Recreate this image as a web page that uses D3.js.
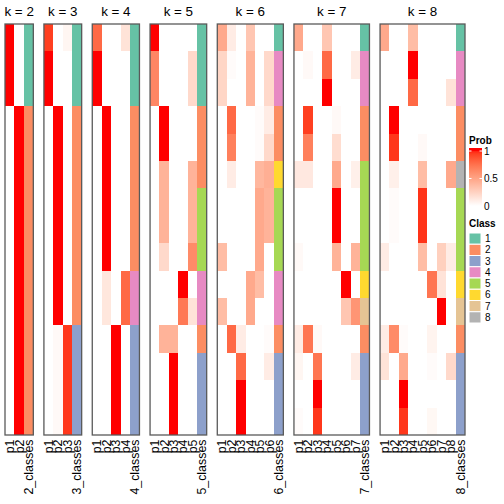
<!DOCTYPE html>
<html>
<head>
<meta charset="utf-8">
<script src="https://cdn.jsdelivr.net/npm/d3@7"></script>
<style>
  html, body { margin: 0; padding: 0; background: #fff; }
  svg { display: block; font-family: "Liberation Sans", Arial, Helvetica, sans-serif; }
</style>
</head>
<body>
<svg id="chart" width="504" height="504"></svg>
<script>
// ---- data: membership probabilities per sample (rows) for each k ----
const kValues = [2, 3, 4, 5, 6, 7, 8];
const nSamples = 15;

const probK2 = [
  [1,0],[1,0],[1,0],
  [0,1],[0,1],[0,1],[0,1],[0,1],[0,1],[0,1],[0,1],[0,1],[0,1],[0,1],[0,1]
];
const classK2 = [1,1,1,2,2,2,2,2,2,2,2,2,2,2,2];

const probK3 = [
  [0.9,0,0.05],[1,0,0],[1,0,0],
  [0,1,0],[0,1,0],[0,1,0],[0,1,0],[0,1,0],[0,1,0],[0,1,0],[0,1,0],
  [0,0.03,0.92],[0,0.03,0.92],[0,0.03,0.92],[0,0.03,0.92]
];
const classK3 = [1,1,1,2,2,2,2,2,2,2,2,3,3,3,3];

const probK4 = [
  [0.75,0,0,0.15],[1,0,0,0],[1,0,0,0],
  [0,1,0,0],[0,1,0,0],[0,1,0,0],[0,1,0,0],[0,1,0,0],[0,1,0,0],
  [0,0.13,0,0.75],[0,0.13,0,0.75],
  [0,0,1,0],[0,0,1,0],[0,0,1,0],[0,0,1,0]
];
const classK4 = [1,1,1,2,2,2,2,2,2,4,4,3,3,3,3];

const probK5 = [
  [1,0,0,0,0],[0.62,0,0,0,0.2],[0.62,0,0,0,0.2],
  [0,1,0,0,0],[0,1,0,0,0],
  [0,0.4,0,0,0.4],[0,0.4,0,0,0.4],[0,0.4,0,0,0.4],
  [0,0.2,0,0,0.6],
  [0,0,0,1,0],[0,0,0,0.68,0.15],
  [0,0.4,0.4,0,0],
  [0,0,1,0,0],[0,0,1,0,0],[0,0,1,0,0]
];
const classK5 = [1,1,1,2,2,2,5,5,5,4,4,2,3,3,3];

const probK6 = [
  [0.45,0.1,0,0.3,0,0],
  [0.22,0.02,0,0.4,0,0.2],
  [0.22,0,0,0.4,0,0.2],
  [0,0.75,0,0,0.02,0.1],
  [0,0.65,0,0,0.02,0.2],
  [0,0.1,0,0,0.38,0.42],
  [0,0,0,0,0.45,0.4],
  [0,0,0,0,0.45,0.4],
  [0.35,0,0,0,0.45,0],
  [0,0,0,0.45,0.35,0],
  [0.35,0,0,0.45,0,0],
  [0,0.75,0.1,0,0,0.02],
  [0,0,0.75,0,0,0.1],
  [0,0,1,0,0,0],
  [0,0,1,0,0,0]
];
const classK6 = [1,4,4,2,2,6,5,5,5,4,4,2,3,3,3];

const probK7 = [
  [0.45,0,0,0.3,0,0,0],
  [0,0.03,0,0.75,0,0,0.1],
  [0,0,0,1,0,0,0],
  [0,0.9,0,0,0.03,0,0],
  [0,0.65,0,0,0.18,0,0],
  [0.12,0.12,0,0,0.45,0,0.08],
  [0,0,0,0,1,0,0],
  [0,0,0,0,1,0,0],
  [0.03,0,0,0,0.4,0,0.4],
  [0,0,0,0,0,1,0],
  [0,0,0,0,0,0.3,0.55],
  [0.1,0.7,0.03,0,0,0,0],
  [0.05,0,0.7,0,0,0,0.1],
  [0,0,1,0,0,0,0],
  [0.02,0,0.92,0,0,0,0]
];
const classK7 = [1,4,4,2,2,5,5,5,5,6,7,2,3,3,3];

const probK8 = [
  [0.45,0,0,0.35,0,0,0,0],
  [0,0,0,1,0,0,0,0],
  [0,0,0,0.75,0,0,0,0.15],
  [0,1,0,0,0,0,0,0],
  [0,0.92,0,0,0.03,0,0,0],
  [0,0.08,0,0,0.35,0,0,0.45],
  [0,0.02,0,0,0.93,0,0,0],
  [0,0.02,0,0,0.93,0,0,0],
  [0.1,0,0,0,0.35,0,0.25,0.1],
  [0,0,0,0,0,0.7,0.15,0],
  [0,0,0,0,0,0,1,0],
  [0.1,0.6,0.02,0,0,0.06,0,0],
  [0.15,0,0.45,0,0,0.02,0,0.2],
  [0,0,1,0,0,0,0,0],
  [0,0,0.92,0,0,0.04,0,0]
];
const classK8 = [1,4,4,2,2,8,5,5,5,6,7,2,3,3,3];

const probs = [probK2, probK3, probK4, probK5, probK6, probK7, probK8];
const classes = [classK2, classK3, classK4, classK5, classK6, classK7, classK8];

const classIds = [1, 2, 3, 4, 5, 6, 7, 8];
const classColors = ["#66C2A5", "#FC8D62", "#8DA0CB", "#E78AC3", "#A6D854", "#FFD92F", "#E5C494", "#B3B3B3"];
const probTicks = [0, 0.5, 1];

// ---- layout ----
const svg = d3.select("#chart");
const topY = 24, bottomY = 435;
const leftX = 5, rightX = 465, gap = 10.6;
const totalCols = d3.sum(kValues, k => k + 1);
const colW = (rightX - leftX - gap * (kValues.length - 1)) / totalCols;

const probColor = d3.scaleLinear().domain([0, 1]).range(["#FFFFFF", "#FF0000"])
  .interpolate(d3.interpolateLab).clamp(true);
const classColor = d3.scaleOrdinal().domain(classIds).range(classColors);

const y = d3.scaleBand().domain(d3.range(nSamples)).range([topY, bottomY]).paddingInner(0).paddingOuter(0);

let xStart = leftX;
kValues.forEach((k, i) => {
  const cols = d3.range(k).map(j => "p" + (j + 1)).concat([k + "_classes"]);
  const w = cols.length * colW;
  const x = d3.scaleBand().domain(cols).range([xStart, xStart + w]);
  const g = svg.append("g");

  const cells = [];
  probs[i].forEach((row, r) => {
    row.forEach((v, c) => cells.push({ r, col: cols[c], fill: probColor(v) }));
    cells.push({ r, col: cols[k], fill: classColor(classes[i][r]) });
  });

  g.selectAll("rect.cell").data(cells).join("rect")
    .attr("class", "cell")
    .attr("x", d => x(d.col))
    .attr("y", d => y(d.r))
    .attr("width", x.bandwidth() + 0.4)
    .attr("height", y.bandwidth() + 0.4)
    .attr("fill", d => d.fill)
    .attr("shape-rendering", "crispEdges");

  // border
  g.append("rect")
    .attr("x", xStart).attr("y", topY)
    .attr("width", w).attr("height", bottomY - topY)
    .attr("fill", "none").attr("stroke", "#5a5a5a").attr("stroke-width", 1.3);

  // title
  g.append("text")
    .attr("x", xStart + w / 2).attr("y", 16)
    .attr("text-anchor", "middle")
    .attr("font-size", 13.4)
    .text("k = " + k);

  // column labels
  g.selectAll("text.col").data(cols).join("text")
    .attr("class", "col")
    .attr("transform", d => `translate(${x(d) + x.bandwidth() / 2},439.5) rotate(-90)`)
    .attr("text-anchor", "end")
    .attr("dy", "0.35em")
    .attr("font-size", 12.4)
    .text(d => d);

  xStart += w + gap;
});

// ---- legends ----
const lx = 469;
const leg = svg.append("g");
leg.append("text").attr("x", lx).attr("y", 144)
  .attr("font-size", 10).attr("font-weight", "bold").text("Prob");

const defs = svg.append("defs");
const grad = defs.append("linearGradient").attr("id", "probGrad")
  .attr("x1", 0).attr("y1", 1).attr("x2", 0).attr("y2", 0);
d3.range(0, 1.0001, 0.1).forEach(t => {
  grad.append("stop").attr("offset", t).attr("stop-color", probColor(t));
});
const ly = d3.scaleLinear().domain([0, 1]).range([206, 151]);
leg.append("rect").attr("x", lx).attr("y", 148).attr("width", 13).attr("height", 58)
  .attr("fill", "url(#probGrad)");
leg.append("rect").attr("x", lx).attr("y", 148).attr("width", 13).attr("height", 3)
  .attr("fill", "#FF0000");
probTicks.forEach(t => {
  leg.append("line").attr("x1", lx).attr("x2", lx + 2.5).attr("y1", ly(t)).attr("y2", ly(t))
    .attr("stroke", "#fff").attr("stroke-width", 1);
  leg.append("line").attr("x1", lx + 10.5).attr("x2", lx + 13).attr("y1", ly(t)).attr("y2", ly(t))
    .attr("stroke", "#fff").attr("stroke-width", 1);
  leg.append("text").attr("x", lx + 15).attr("y", ly(t)).attr("dy", "0.35em")
    .attr("font-size", 10).text(t === 0.5 ? "0.5" : String(t));
});

leg.append("text").attr("x", lx).attr("y", 227)
  .attr("font-size", 10).attr("font-weight", "bold").text("Class");
const ci = d3.scaleBand().domain(classIds).range([233, 323]);
leg.selectAll("rect.sw").data(classIds).join("rect")
  .attr("class", "sw")
  .attr("x", lx).attr("y", d => ci(d))
  .attr("width", 12).attr("height", ci.bandwidth())
  .attr("fill", d => classColor(d))
  .attr("stroke", "#fff").attr("stroke-width", 1);
leg.selectAll("text.sl").data(classIds).join("text")
  .attr("class", "sl")
  .attr("x", lx + 16).attr("y", d => ci(d) + ci.bandwidth() / 2).attr("dy", "0.35em")
  .attr("font-size", 10).text(d => d);
</script>
</body>
</html>
